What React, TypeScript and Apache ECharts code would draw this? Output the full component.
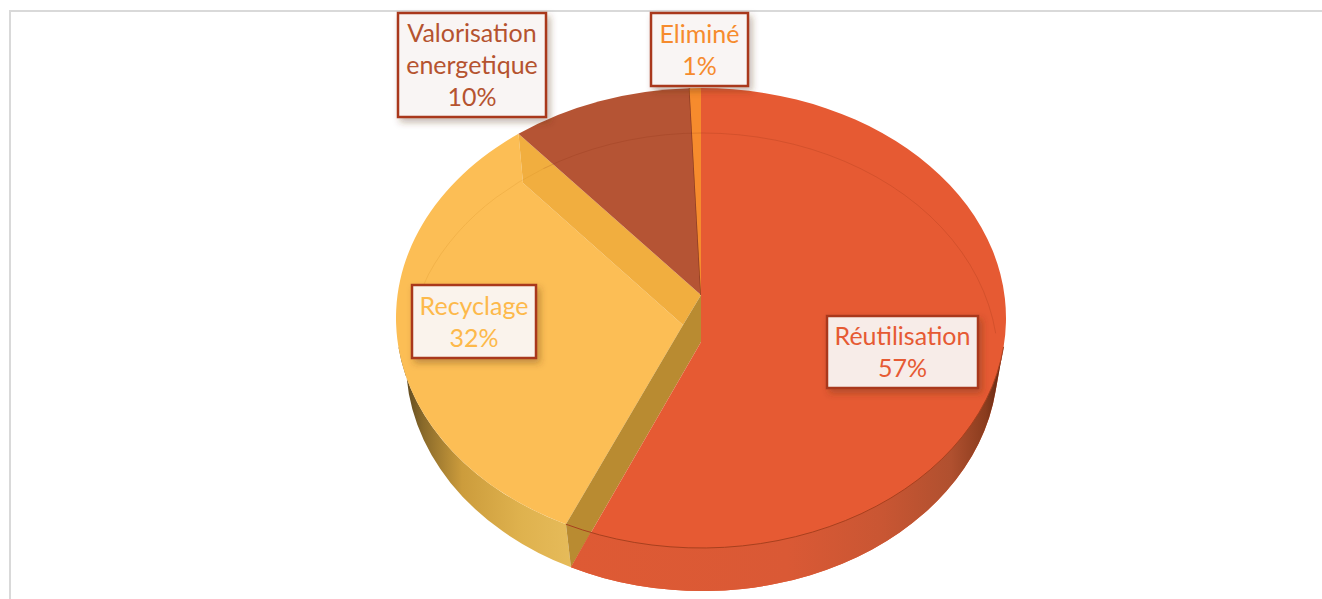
import React, { useEffect, useRef } from "react";
import * as echarts from "echarts";

const categories = ["Réutilisation", "Recyclage", "Valorisation\nenergetique", "Eliminé"];
const shares = [57.3, 32.49, 9.61, 0.6];
const textColors = ["#E65A33", "#FDB94B", "#B5532F", "#F68B2D"];
const boxFills = ["#F7ECE8", "#FAF3EC", "#F9F5F4", "#F9F5F4"];
const boxes = [
  [827, 316, 151, 72],
  [412, 285, 124, 73],
  [398, 13, 148, 104],
  [651, 13, 97, 73],
];

const TOP = { cx: 701, cy: 318, rx: 305, ry: 230 };
const BOT = { cx: 702, cy: 362, rx: 296, ry: 229 };
type E = typeof TOP;
const pt = (e: E, f: number) => {
  const a = 2 * Math.PI * f;
  return [e.cx + e.rx * Math.sin(a), e.cy - e.ry * Math.cos(a)];
};
const arc = (e: E, from: number, to: number) => {
  const p = pt(e, to);
  const large = Math.abs(to - from) > 0.5 ? 1 : 0;
  const sweep = to > from ? 1 : 0;
  return `A${e.rx} ${e.ry} 0 ${large} ${sweep} ${p[0]} ${p[1]}`;
};
const at = (cmd: string, p: number[]) => `${cmd}${p[0]} ${p[1]}`;

const path = (d: string, style: any, z2: number) => ({
  type: "path",
  shape: { pathData: d },
  style,
  z2,
  silent: true,
});

const total = shares.reduce((a, b) => a + b, 0);
const cum: number[] = [];
shares.reduce((a, b, i) => ((cum[i] = a / total), a + b), 0);

const APEX_BACK = [701, 295];
const APEX_YELLOW = [683, 325];
const APEX_RED = [701, 342];
const NOTCH = [523, 183];

function renderItem(params: any, api: any) {
  const i = params.dataIndex;
  const start = cum[i];
  const end = start + api.value(0) / total;
  const children: any[] = [];
  if (i === 0) {
    const wallStart = 0.27;
    const wallTopEnd = end - 0.014;
    children.push(
      path(
        at("M", APEX_RED) + at("L", pt(TOP, 0)) + arc(TOP, 0, wallStart) + at("L", pt(BOT, wallStart)) + arc(BOT, wallStart, end) + "Z",
        { fill: "#E65A33" },
        5
      )
    );
    children.push(
      path(
        at("M", pt(TOP, wallStart)) + at("L", pt(BOT, wallStart)) + arc(BOT, wallStart, end) + at("L", pt(TOP, wallTopEnd)) + arc(TOP, wallTopEnd, wallStart) + "Z",
        {
          fill: new echarts.graphic.LinearGradient(
            571,
            0,
            1003,
            0,
            [
              { offset: 0, color: "#DE5A34" },
              { offset: 0.5, color: "#DA5935" },
              { offset: 0.72, color: "#C95633" },
              { offset: 0.88, color: "#B0502F" },
              { offset: 0.96, color: "#8A3C1E" },
              { offset: 1, color: "#5E2410" },
            ],
            true
          ),
        },
        6
      )
    );
    children.push(
      path(at("M", pt(TOP, end)) + arc(TOP, end, wallStart), { fill: "none", stroke: "#A8401E", lineWidth: 1 }, 7)
    );
    children.push(
      path(at("M", pt(BOT, 0.91)) + arc(BOT, 0.91, 1.23), { fill: "none", stroke: "rgba(130,40,10,0.18)", lineWidth: 1 }, 7)
    );
    children.push(
      path(at("M", pt(BOT, 0.78)) + arc(BOT, 0.78, 0.91), { fill: "none", stroke: "rgba(200,130,20,0.18)", lineWidth: 1 }, 7)
    );
  } else if (i === 1) {
    const wallEnd = 0.73;
    children.push(
      path(
        at("M", pt(TOP, wallEnd)) + at("L", pt(BOT, 0.75)) + arc(BOT, 0.75, start) + at("L", pt(TOP, start)) + arc(TOP, start, wallEnd) + "Z",
        {
          fill: new echarts.graphic.LinearGradient(
            403,
            0,
            572,
            0,
            [
              { offset: 0, color: "#5A4620" },
              { offset: 0.12, color: "#8A6A2A" },
              { offset: 0.35, color: "#CC9C3C" },
              { offset: 0.7, color: "#DFB24E" },
              { offset: 1, color: "#E6BB5A" },
            ],
            true
          ),
        },
        1
      )
    );
    children.push(
      path(
        at("M", pt(TOP, end)) + arc(TOP, end, start) + at("L", APEX_YELLOW) + at("L", NOTCH) + "Z",
        { fill: "#FCBE55" },
        2
      )
    );
    children.push(
      path(at("M", pt(TOP, end)) + at("L", APEX_BACK) + at("L", APEX_YELLOW) + at("L", NOTCH) + "Z", { fill: "#F1AE3F" }, 3)
    );
    children.push(
      path(
        at("M", APEX_BACK) + at("L", APEX_YELLOW) + at("L", pt(TOP, start)) + at("L", pt(BOT, start)) + at("L", APEX_RED) + "Z",
        { fill: "#B98B31" },
        4
      )
    );
  } else if (i === 2) {
    children.push(
      path(at("M", APEX_BACK) + at("L", pt(TOP, start)) + arc(TOP, start, end) + "Z", { fill: "#B55434" }, 3)
    );
    children.push(
      path(at("M", APEX_BACK) + at("L", pt(TOP, end)), { fill: "none", stroke: "#8E3D20", lineWidth: 1.5 }, 4)
    );
  } else {
    children.push(
      path(at("M", APEX_BACK) + at("L", pt(TOP, start)) + arc(TOP, start, end) + "Z", { fill: "#F68B2D" }, 4)
    );
  }
  const b = boxes[i];
  children.push({
    type: "rect",
    shape: { x: b[0], y: b[1], width: b[2], height: b[3] },
    style: {
      fill: boxFills[i],
      stroke: "#A9391A",
      lineWidth: 2.5,
      shadowBlur: 7,
      shadowOffsetX: 3,
      shadowOffsetY: 4,
      shadowColor: "rgba(90,50,30,0.35)",
    },
    z2: 10,
  });
  children.push({
    type: "text",
    z2: 11,
    style: {
      text: `${categories[i]}\n${Math.round(api.value(0))}%`,
      x: b[0] + b[2] / 2,
      y: b[1] + b[3] / 2 - 1,
      align: "center",
      verticalAlign: "middle",
      fill: textColors[i],
      font: "25px Lato, sans-serif",
      lineHeight: 32,
    },
  });
  return { type: "group", children };
}

export default function App() {
  const ref = useRef<HTMLDivElement>(null);
  useEffect(() => {
    document.body.style.margin = "0";
    const chart = echarts.init(ref.current!, null, { renderer: "svg" });
    chart.setOption({
      animation: false,
      backgroundColor: "#FFFFFF",
      graphic: [
        { type: "line", shape: { x1: 9, y1: 11, x2: 1322, y2: 11 }, style: { stroke: "#D9D9D9", lineWidth: 2 } },
        { type: "line", shape: { x1: 10, y1: 10, x2: 10, y2: 599 }, style: { stroke: "#D9D9D9", lineWidth: 2 } },
      ],
      series: [
        {
          type: "custom",
          coordinateSystem: "none",
          renderItem,
          data: shares.map((v, i) => ({ name: categories[i], value: [v] })),
          silent: true,
        },
      ],
    });
    return () => chart.dispose();
  }, []);
  return <div ref={ref} style={{ width: 1322, height: 599, fontVariantLigatures: "none" }} />;
}
